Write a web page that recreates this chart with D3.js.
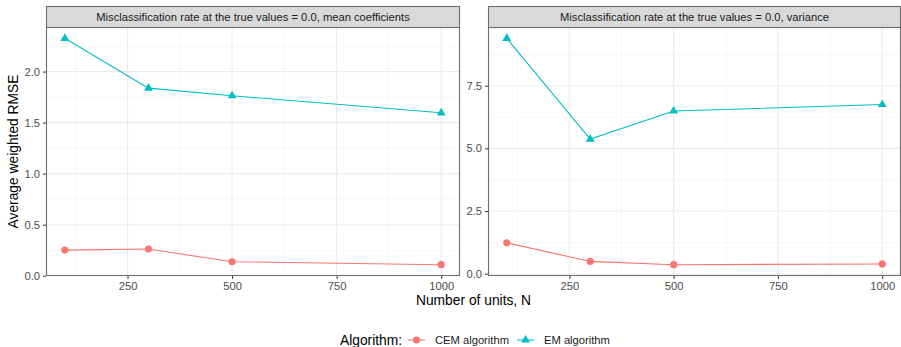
<!DOCTYPE html>
<html>
<head>
<meta charset="utf-8">
<script src="https://cdn.jsdelivr.net/npm/d3@7"></script>
<style>
    body { margin: 0; background: #fff; }
    text { font-family: "Liberation Sans", Arial, sans-serif; }
</style>
</head>
<body>
<svg id="chart"></svg>
<script>
// values
const units = [100, 300, 500, 1000];
const algorithms = ["CEM algorithm", "EM algorithm"];
const colors = ["#F8766D", "#00BFC4"];

const meanCEM = [0.251, 0.261, 0.137, 0.108];
const meanEM = [2.326, 1.838, 1.763, 1.596];
const varCEM = [1.23, 0.49, 0.36, 0.39];
const varEM = [9.39, 5.37, 6.49, 6.75];

const xTicks = [250, 500, 750, 1000];
const xMinor = [125, 375, 625, 875];
const meanTicks = [0, 0.5, 1.0, 1.5, 2.0];
const meanMinor = [0.25, 0.75, 1.25, 1.75, 2.25];
const varTicks = [0, 2.5, 5.0, 7.5];
const varMinor = [1.25, 3.75, 6.25, 8.75];

const panels = [
    { title: "Misclassification rate at the true values = 0.0, mean coefficients",
      series: [meanCEM, meanEM], ticks: meanTicks, minor: meanMinor, left: 46, right: 460 },
    { title: "Misclassification rate at the true values = 0.0, variance",
      series: [varCEM, varEM], ticks: varTicks, minor: varMinor, left: 488, right: 901 }
];

const width = 901, height = 347;
const stripTop = 6, panelTop = 27, panelBot = 276;

let svg = d3.select("#chart")
    .attr("width", width)
    .attr("height", height);

// ggplot style 5% expansion
function expand(ext) {
    let pad = (ext[1] - ext[0]) * 0.05;
    return [ext[0] - pad, ext[1] + pad];
}

panels.forEach(function(p) {
    let x = d3.scaleLinear()
        .domain(expand(d3.extent(units)))
        .range([p.left, p.right]);
    let allVals = p.series.flat();
    let y = d3.scaleLinear()
        .domain(expand(d3.extent(allVals)))
        .range([panelBot, panelTop]);

    let g = svg.append("g");

    // panel background
    g.append("rect")
        .attr("x", p.left).attr("y", panelTop)
        .attr("width", p.right - p.left).attr("height", panelBot - panelTop)
        .attr("fill", "#fff");

    // minor grid
    g.selectAll(".vminor").data(xMinor).join("line")
        .attr("x1", d => x(d)).attr("x2", d => x(d))
        .attr("y1", panelTop).attr("y2", panelBot)
        .attr("stroke", "#f2f2f2").attr("stroke-width", 0.6);
    g.selectAll(".hminor").data(p.minor).join("line")
        .attr("x1", p.left).attr("x2", p.right)
        .attr("y1", d => y(d)).attr("y2", d => y(d))
        .attr("stroke", "#f2f2f2").attr("stroke-width", 0.6);

    // major grid
    g.selectAll(".vmajor").data(xTicks).join("line")
        .attr("x1", d => x(d)).attr("x2", d => x(d))
        .attr("y1", panelTop).attr("y2", panelBot)
        .attr("stroke", "#ebebeb").attr("stroke-width", 1.1);
    g.selectAll(".hmajor").data(p.ticks).join("line")
        .attr("x1", p.left).attr("x2", p.right)
        .attr("y1", d => y(d)).attr("y2", d => y(d))
        .attr("stroke", "#ebebeb").attr("stroke-width", 1.1);

    // lines and points
    p.series.forEach(function(vals, i) {
        let pts = units.map((u, k) => [u, vals[k]]);
        g.append("path")
            .datum(pts)
            .attr("fill", "none")
            .attr("stroke", colors[i])
            .attr("stroke-width", 1.1)
            .attr("d", d3.line().x(d => x(d[0])).y(d => y(d[1])));
        let sym = i === 0 ? d3.symbolCircle : d3.symbolTriangle;
        let size = i === 0 ? 40 : 34;
        g.selectAll(".pt" + i).data(pts).join("path")
            .attr("transform", d => `translate(${x(d[0])},${y(d[1])})`)
            .attr("d", d3.symbol().type(sym).size(size))
            .attr("fill", colors[i]);
    });

    // panel border
    g.append("rect")
        .attr("x", p.left + 0.5).attr("y", panelTop + 0.5)
        .attr("width", p.right - p.left - 1).attr("height", panelBot - panelTop - 1)
        .attr("fill", "none").attr("stroke", "#6e6e6e").attr("stroke-width", 1.1);

    // strip
    g.append("rect")
        .attr("x", p.left + 0.5).attr("y", stripTop + 0.5)
        .attr("width", p.right - p.left - 1).attr("height", panelTop - stripTop)
        .attr("fill", "#d9d9d9").attr("stroke", "#6e6e6e").attr("stroke-width", 1.1);
    g.append("text")
        .text(p.title)
        .attr("x", (p.left + p.right) / 2)
        .attr("y", (stripTop + panelTop) / 2 + 4)
        .attr("font-size", "11.2px")
        .attr("fill", "#1a1a1a")
        .style("text-anchor", "middle");

    // axes
    let xAxis = g.append("g")
        .attr("transform", `translate(0, ${panelBot})`)
        .call(d3.axisBottom(x).tickValues(xTicks).tickFormat(d3.format("d")).tickSize(3).tickPadding(3));
    let yAxis = g.append("g")
        .attr("transform", `translate(${p.left}, 0)`)
        .call(d3.axisLeft(y).tickValues(p.ticks).tickFormat(d3.format(".1f")).tickSize(3).tickPadding(3));
    [xAxis, yAxis].forEach(function(a) {
        a.select(".domain").remove();
        a.selectAll("line").attr("stroke", "#333");
        a.selectAll("text")
            .attr("fill", "#4d4d4d")
            .style("font-size", "11.2px")
            .style("font-family", "'Liberation Sans', Arial, sans-serif");
    });
});

// axis titles
svg.append("text")
    .text("Number of units, N")
    .attr("x", (46 + 901) / 2)
    .attr("y", 305)
    .attr("font-size", "13.8px")
    .style("text-anchor", "middle");

svg.append("text")
    .text("Average weighted RMSE")
    .attr("font-size", "13.8px")
    .attr("transform", `translate(18, ${(panelTop + panelBot) / 2}) rotate(-90)`)
    .style("text-anchor", "middle");

// legend
let legend = svg.append("g");
legend.append("text")
    .text("Algorithm:")
    .attr("x", 340).attr("y", 345)
    .attr("font-size", "13.8px");

let keyX = [408, 517];
algorithms.forEach(function(a, i) {
    let kx = keyX[i];
    legend.append("line")
        .attr("x1", kx).attr("x2", kx + 17)
        .attr("y1", 340).attr("y2", 340)
        .attr("stroke", colors[i]).attr("stroke-width", 1.1);
    legend.append("path")
        .attr("transform", `translate(${kx + 8.5}, 340)`)
        .attr("d", d3.symbol().type(i === 0 ? d3.symbolCircle : d3.symbolTriangle).size(i === 0 ? 40 : 34))
        .attr("fill", colors[i]);
    legend.append("text")
        .text(a)
        .attr("x", kx + 27).attr("y", 344)
        .attr("font-size", "11.2px")
        .attr("fill", "#1a1a1a");
});
</script>
</body>
</html>
